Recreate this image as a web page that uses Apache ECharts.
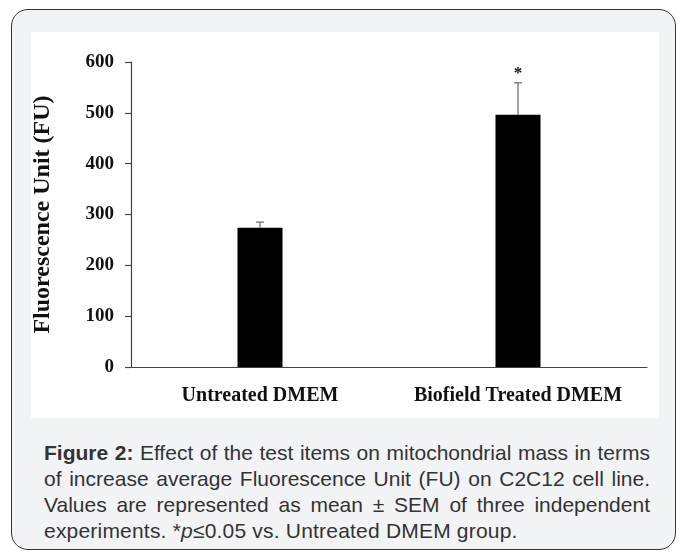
<!DOCTYPE html>
<html>
<head>
<meta charset="utf-8">
<script src="https://cdn.jsdelivr.net/npm/echarts@6/dist/echarts.min.js"></script>
<style>
  html, body { margin: 0; padding: 0; background: #ffffff; }
  body { width: 683px; height: 552px; position: relative; overflow: hidden; }
  #frame {
    position: absolute; left: 11px; top: 9px; width: 663px; height: 539px;
    border: 1.5px solid #333; border-radius: 17px; background: #f2f3f5;
  }
  #chart {
    position: absolute; left: 31px; top: 32px; width: 628px; height: 386px;
    background: #ffffff;
  }
  #caption {
    position: absolute; left: 44px; top: 440px; width: 606px;
    font-family: "Liberation Sans", Arial, sans-serif; font-size: 21px;
    line-height: 26px; color: #333;
  }
  #caption div { white-space: nowrap; }
  #caption .j { text-align: justify; text-align-last: justify; }
  #caption .last { letter-spacing: 0.2px; }
</style>
</head>
<body>
<div id="frame"></div>
<div id="chart"></div>
<div id="caption">
  <div class="j"><b>Figure 2:</b> Effect of the test items on mitochondrial mass in terms</div>
  <div class="j">of increase average Fluorescence Unit (FU) on C2C12 cell line.</div>
  <div class="j">Values are represented as mean ± SEM of three independent</div>
  <div class="last">experiments. *<i>p</i>≤0.05 vs. Untreated DMEM group.</div>
</div>
<script>
const categories = ['Untreated DMEM', 'Biofield Treated DMEM'];
const meanValues = [274, 496];
const semValues = [11, 63];
const significance = ['', '*'];
const yTicks = { min: 0, max: 600, interval: 100 };

const serif = '"Liberation Serif", "Times New Roman", serif';
const chart = echarts.init(document.getElementById('chart'));

chart.setOption({
  animation: false,
  backgroundColor: '#ffffff',
  grid: { left: 100, right: 12, top: 30, bottom: 51, containLabel: false, outerBoundsMode: 'none' },
  xAxis: {
    type: 'category',
    data: categories,
    boundaryGap: true,
    axisLine: { show: true, lineStyle: { color: '#444', width: 1.2 } },
    axisTick: { show: false },
    axisLabel: {
      interval: 0, margin: 19, fontFamily: serif, fontWeight: 'bold', fontSize: 20, color: '#111'
    },
    splitLine: { show: false }
  },
  yAxis: {
    type: 'value',
    min: yTicks.min, max: yTicks.max, interval: yTicks.interval,
    name: 'Fluorescence Unit (FU)',
    nameLocation: 'middle',
    nameGap: 76,
    nameRotate: 90,
    nameTextStyle: { fontFamily: serif, fontWeight: 'bold', fontSize: 24, color: '#111' },
    axisLine: { show: true, lineStyle: { color: '#444', width: 1.2 } },
    axisTick: { show: true, inside: false, length: 6, lineStyle: { color: '#444', width: 1.2 } },
    axisLabel: { margin: 17, fontFamily: serif, fontWeight: 'bold', fontSize: 19, color: '#111' },
    splitLine: { show: false }
  },
  series: [
    {
      type: 'bar',
      data: meanValues,
      barWidth: 45,
      itemStyle: { color: '#000000' },
      z: 2
    },
    {
      type: 'custom',
      z: 3,
      data: categories.map((c, i) => [i, meanValues[i], semValues[i]]),
      renderItem: function (params, api) {
        const idx = api.value(0);
        const v = api.value(1);
        const e = api.value(2);
        const base = api.coord([idx, v]);
        const top = api.coord([idx, v + e]);
        const cap = 4;
        const children = [
          { type: 'line', shape: { x1: base[0], y1: base[1], x2: top[0], y2: top[1] },
            style: { stroke: '#666', lineWidth: 1.2 } },
          { type: 'line', shape: { x1: top[0] - cap, y1: top[1], x2: top[0] + cap, y2: top[1] },
            style: { stroke: '#666', lineWidth: 1.2 } }
        ];
        const mark = significance[params.dataIndex];
        if (mark) {
          children.push({
            type: 'text',
            style: {
              text: mark, x: top[0], y: top[1] - 9,
              align: 'center', verticalAlign: 'middle',
              font: 'bold 17px ' + serif, fill: '#111'
            }
          });
        }
        return { type: 'group', children: children };
      }
    }
  ]
});
</script>
</body>
</html>
